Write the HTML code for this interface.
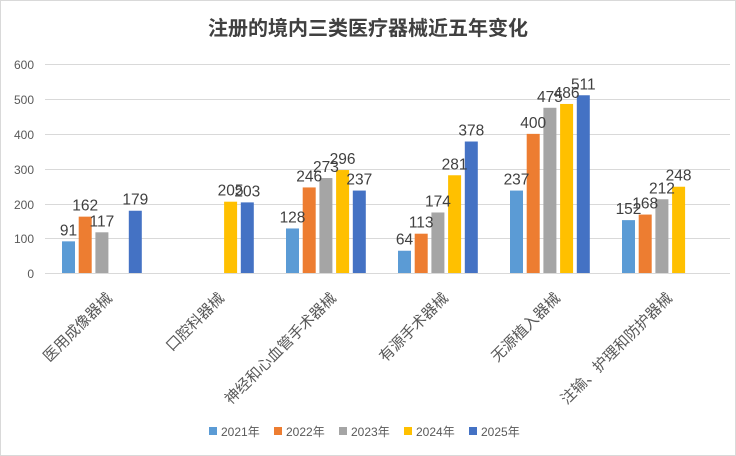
<!DOCTYPE html>
<html><head><meta charset="utf-8"><style>
html,body{margin:0;padding:0;background:#fff}
svg{display:block;font-family:"Liberation Sans","Noto Sans CJK SC",sans-serif}
</style></head><body>
<svg width="736" height="456" viewBox="0 0 736 456">
<rect x="0.5" y="0.5" width="735" height="455" fill="#fff" stroke="#d9d9d9"/>
<text x="368" y="35" text-anchor="middle" font-size="20" font-weight="bold" fill="#404040">注册的境内三类医疗器械近五年变化</text>
<g stroke="#d9d9d9" stroke-width="1">
<line x1="45" x2="730" y1="64.5" y2="64.5"/><line x1="45" x2="730" y1="99.5" y2="99.5"/>
<line x1="45" x2="730" y1="134.5" y2="134.5"/><line x1="45" x2="730" y1="169.5" y2="169.5"/>
<line x1="45" x2="730" y1="204.5" y2="204.5"/><line x1="45" x2="730" y1="238.5" y2="238.5"/>
<line x1="45" x2="730" y1="273.5" y2="273.5"/>
</g>
<g font-size="12" fill="#595959" text-anchor="end">
<text x="34" y="69">600</text><text x="34" y="104">500</text><text x="34" y="139">400</text>
<text x="34" y="174">300</text><text x="34" y="209">200</text><text x="34" y="243">100</text><text x="34" y="278">0</text>
</g>
<g id="bars"></g>
<g id="labels" font-size="15.5" fill="#404040" text-anchor="middle"></g>
<g id="cats" font-size="15" fill="#595959" text-anchor="end"></g>
<g font-size="12" fill="#595959">
<rect x="209" y="427" width="8" height="8" fill="#5b9bd5"/><text x="221" y="436">2021年</text>
<rect x="274" y="427" width="8" height="8" fill="#ed7d31"/><text x="286" y="436">2022年</text>
<rect x="339" y="427" width="8" height="8" fill="#a5a5a5"/><text x="351" y="436">2023年</text>
<rect x="404" y="427" width="8" height="8" fill="#ffc000"/><text x="416" y="436">2024年</text>
<rect x="469" y="427" width="8" height="8" fill="#4472c4"/><text x="481" y="436">2025年</text>
</g>
</svg>
<script>
var cols=["#5b9bd5","#ed7d31","#a5a5a5","#ffc000","#4472c4"];
var data=[[91,162,117,null,179],[null,null,null,205,203],[128,246,273,296,237],[64,113,174,281,378],[237,400,475,486,511],[152,168,212,248,null]];
var cats=["医用成像器械","口腔科器械","神经和心血管手术器械","有源手术器械","无源植入器械","注输、护理和防护器械"];
var ns="http://www.w3.org/2000/svg",b=document.getElementById("bars"),l=document.getElementById("labels"),c=document.getElementById("cats");
var k=(273-64.3)/600;
data.forEach(function(g,gi){var x0=62+gi*112;
g.forEach(function(v,i){if(v==null)return;var x=x0+i*16.7,h=v*k;
var r=document.createElementNS(ns,"rect");r.setAttribute("x",x);r.setAttribute("y",273-h);r.setAttribute("width",13);r.setAttribute("height",h);r.setAttribute("fill",cols[i]);b.appendChild(r);
var t=document.createElementNS(ns,"text");t.setAttribute("x",x+6.5);t.setAttribute("y",273-h-6);t.textContent=v;l.appendChild(t);});
var cx=x0+40+11,t=document.createElementNS(ns,"text");t.setAttribute("transform","translate("+cx+",299) rotate(-45)");t.textContent=cats[gi];c.appendChild(t);});
</script>
</body></html>
